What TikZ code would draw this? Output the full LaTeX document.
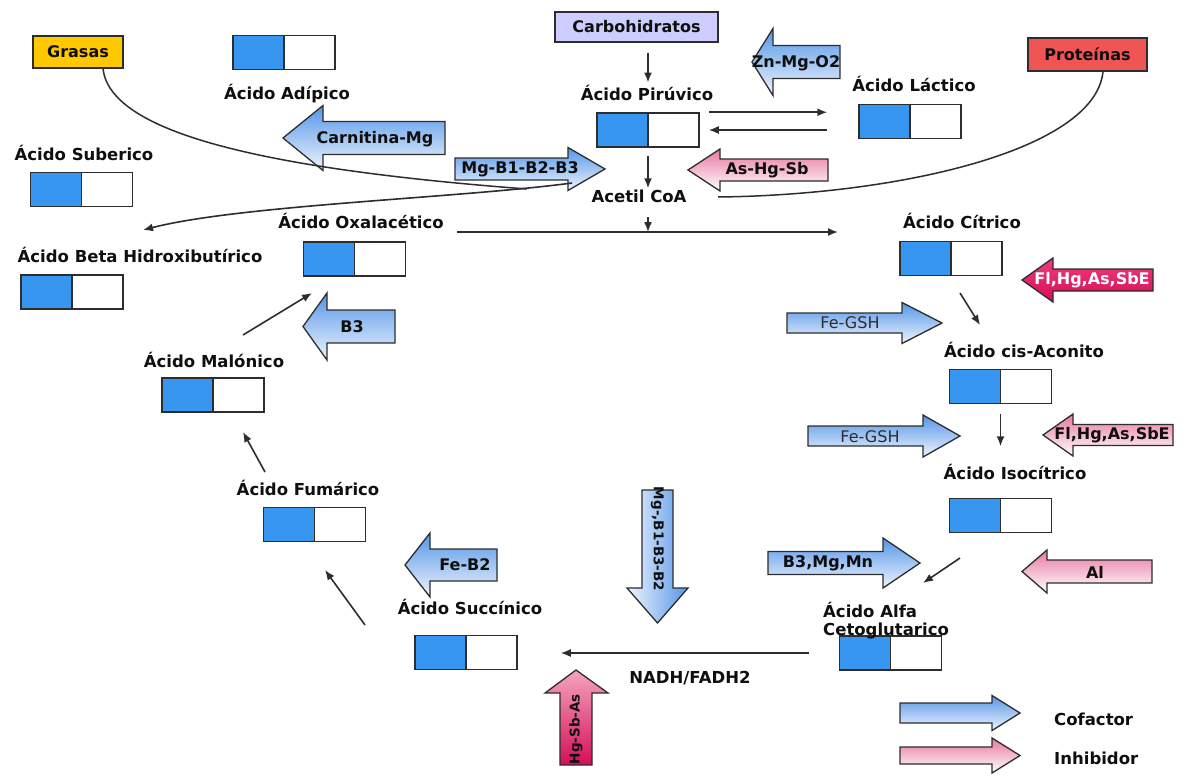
\documentclass[tikz,border=0pt]{standalone}
\usepackage{fontspec}
\setmainfont{DejaVu Sans}
\usetikzlibrary{arrows.meta}
\definecolor{boxblue}{RGB}{55,150,240}
\definecolor{boxline}{RGB}{45,45,45}
\definecolor{cofblue}{RGB}{85,150,230}
\definecolor{coflight}{RGB}{238,244,255}
\definecolor{inhpink}{RGB}{232,120,160}
\definecolor{inhdeep}{RGB}{212,15,85}
\definecolor{inhdeeptop}{RGB}{238,60,125}
\definecolor{inhvtop}{RGB}{245,165,192}
\definecolor{grasacol}{RGB}{255,200,0}
\definecolor{carbocol}{RGB}{205,205,255}
\definecolor{protcol}{RGB}{240,85,85}
\definecolor{txt}{RGB}{15,15,15}
\newcommand\hblk[7]{\shadedraw[#1] (#2,#5-#6) -- (#3,#5-#6) -- (#3,#5-#7) -- (#4,#5) -- (#3,#5+#7) -- (#3,#5+#6) -- (#2,#5+#6) -- cycle;}
\begin{document}
\begin{tikzpicture}[x=1pt,y=-1pt,
  every node/.style={text=txt},
  lbl/.style={font=\fontsize{16.5}{18}\selectfont\bfseries, inner sep=1pt},
  albl/.style={font=\fontsize{16}{18}\selectfont\bfseries, inner sep=0pt},
  rlbl/.style={font=\fontsize{16}{18}\selectfont, inner sep=0pt, text=boxline},
  vlbl/.style={font=\fontsize{13.5}{15}\selectfont\bfseries, inner sep=0pt},
  halfbox/.style={draw=boxline, line width=1.5pt, minimum width=102pt, minimum height=34pt, inner sep=0pt,
    path picture={\fill[boxblue] (path picture bounding box.north west) rectangle (path picture bounding box.south);
      \draw[boxline, line width=1.5pt] (path picture bounding box.north) -- (path picture bounding box.south);}},
  srcbox/.style={draw=boxline, line width=1.5pt, inner sep=0pt, font=\fontsize{16}{18}\selectfont\bfseries},
  conn/.style={draw=boxline, line width=1.6pt, -{Latex[length=10pt,width=8pt]}},
  plain/.style={draw=boxline, line width=1.5pt},
  cof/.style={top color=cofblue, bottom color=coflight, draw=boxline, line width=1.3pt},
  inhl/.style={top color=inhpink, bottom color=white, draw=boxline, line width=1.3pt},
  inhs/.style={top color=inhdeeptop, bottom color=inhdeep, draw=boxline, line width=1.3pt},
]
\useasboundingbox (0,0) rectangle (1201,776);
\fill[white] (0,0) rectangle (1201,776);

% source boxes
\node[srcbox, fill=grasacol, minimum width=90pt, minimum height=32pt] (grasas) at (78,52) {Grasas};
\node[srcbox, fill=carbocol, minimum width=163pt, minimum height=30pt] (carbo) at (636.5,27) {Carbohidratos};
\node[srcbox, fill=protcol, minimum width=119pt, minimum height=33pt] (prot) at (1087.5,54.5) {Proteínas};

% half boxes
\node[halfbox] (adipbox) at (284,52.5) {};
\node[halfbox] (suberbox) at (81.5,189.5) {};
\node[halfbox] (betabox) at (72,292) {};
\node[halfbox] (oxbox) at (354.5,259) {};
\node[halfbox] (pirbox) at (648,130) {};
\node[halfbox] (lacbox) at (910,121.5) {};
\node[halfbox] (citbox) at (951,258.5) {};
\node[halfbox] (cisbox) at (1000.5,386.5) {};
\node[halfbox] (isobox) at (1000.5,515.5) {};
\node[halfbox] (alfabox) at (890.5,653) {};
\node[halfbox] (succbox) at (466,652.5) {};
\node[halfbox] (fumbox) at (314.5,524.5) {};
\node[halfbox] (malbox) at (213,395) {};

% labels
\node[lbl, anchor=base] (adip) at (287,99) {Ácido Adípico};
\node[lbl, anchor=base] (suber) at (84,160) {Ácido Suberico};
\node[lbl, anchor=base] (beta) at (140,262) {Ácido Beta Hidroxibutírico};
\node[lbl, anchor=base] (ox) at (361,228) {Ácido Oxalacético};
\node[lbl, anchor=base] (pir) at (647,100) {Ácido Pirúvico};
\node[lbl, anchor=base] (acetil) at (639,202) {Acetil CoA};
\node[lbl, anchor=base] (lac) at (914,92) {Ácido Láctico};
\node[lbl, anchor=base] (cit) at (962,228) {Ácido Cítrico};
\node[lbl, anchor=base] (cis) at (1024,357) {Ácido cis-Aconito};
\node[lbl, anchor=base] (iso) at (1015,479) {Ácido Isocítrico};
\node[lbl, anchor=base] (mal) at (214,367) {Ácido Malónico};
\node[lbl, anchor=base] (fum) at (308,495) {Ácido Fumárico};
\node[lbl, anchor=base] (succ) at (470,614) {Ácido Succínico};
\node[lbl, anchor=base west] (alfa1) at (822,617) {Ácido Alfa};
\node[lbl, anchor=base west] (alfa2) at (822,635) {Cetoglutarico};
\node[lbl, anchor=base] (nadh) at (690,683) {NADH/FADH2};
\node[lbl, anchor=base west] (cofl) at (1053,725) {Cofactor};
\node[lbl, anchor=base west] (inhl) at (1053,764) {Inhibidor};

% block arrows: cofactors
\hblk{cof}{445}{323}{283}{138}{16.5}{32.5}
\hblk{cof}{455}{568}{605}{169}{11}{21.5}
\hblk{cof}{840}{773}{752}{62}{16.5}{33.5}
\hblk{cof}{787}{902}{942}{323}{10}{20.5}
\hblk{cof}{808}{923}{960}{436}{10}{21}
\hblk{cof}{768}{883}{920}{563}{11.5}{25}
\hblk{cof}{395}{327}{303}{326.5}{16.5}{33.5}
\hblk{cof}{497}{430}{405}{565}{16}{32}
\hblk{cof}{900}{992}{1020}{713}{10}{17.5}
\shadedraw[left color=coflight, right color=cofblue, draw=boxline, line width=1.3pt]
  (642,490) -- (673,490) -- (673,588) -- (688,588) -- (657.5,623) -- (627,588) -- (642,588) -- cycle;
% block arrows: inhibitors
\hblk{inhl}{828}{720}{688}{170}{11}{21}
\hblk{inhs}{1153}{1053}{1022}{280}{11}{22}
\hblk{inhl}{1173}{1073}{1043}{435}{10.5}{21}
\hblk{inhl}{1152}{1047}{1022}{571.5}{11.5}{21.5}
\hblk{inhl}{900}{992}{1020}{755.5}{8.5}{17.5}
\shadedraw[top color=inhvtop, bottom color=inhdeep, draw=boxline, line width=1.3pt]
  (560,765) -- (592,765) -- (592,693) -- (608,693) -- (576,670) -- (545,693) -- (560,693) -- cycle;

% arrow texts
\node[albl] (tcarn) at (375,139) {Carnitina-Mg};
\node[albl] (tmgb) at (520,169) {Mg-B1-B2-B3};
\node[albl] (tzn) at (796,63) {Zn-Mg-O2};
\node[rlbl] (tfe1) at (850,323) {Fe-GSH};
\node[rlbl] (tfe2) at (870,437) {Fe-GSH};
\node[albl] (tb3mg) at (828,563) {B3,Mg,Mn};
\node[albl] (tb3) at (352,327) {B3};
\node[albl] (tfeb2) at (465,565) {Fe-B2};
\node[albl] (tas) at (767,170) {As-Hg-Sb};
\node[albl, text=white] (tfl1) at (1092,280) {Fl,Hg,As,SbE};
\node[albl] (tfl2) at (1112,435) {Fl,Hg,As,SbE};
\node[albl] (tal) at (1095,572) {Al};
\node[vlbl, rotate=-90] (tmgv) at (657.5,539) {Mg-,B1-B3-B2};
\node[vlbl, rotate=90] (thg) at (576,729) {Hg-Sb-As};

% connectors
\draw[conn, shorten <=10pt, shorten >=1pt] (pirbox |- carbo.south) -- (pirbox |- pir.north);
\draw[conn, shorten <=8pt] (pirbox.south) -- (pirbox.south |- acetil.north);
\draw[conn, shorten <=9pt, shorten >=31pt] (pirbox.north east) -- (pirbox.north east -| lacbox.west);
\draw[conn, shorten <=31pt, shorten >=9pt] (pirbox.east -| lacbox.west) -- (pirbox.east);
\coordinate (tcaL) at (457,232);
\coordinate (tcaR) at (838,232);
\draw[conn] (tcaL) -- (tcaR);
\draw[conn, shorten <=14pt] (pirbox.south |- acetil.south) -- (pirbox.south |- tcaL);
\coordinate (gend) at (527,189);
\draw[plain] ([xshift=25pt]grasas.south) .. controls (110,130) and (250,168) .. (gend);
\coordinate (mgstart) at (572,183);
\coordinate (betaend) at (143,230);
\draw[conn] (mgstart) .. controls (460,198) and (240,205) .. (betaend);
\coordinate (pend) at (718,197);
\draw[plain] ([xshift=15.5pt]prot.south) .. controls (1095,150) and (900,195) .. (pend);
\coordinate (c9a) at (960,293);
\coordinate (c9b) at (980,325);
\draw[conn] (c9a) -- (c9b);
\draw[conn, shorten <=10pt] (cisbox.south) -- ++(0,42);
\coordinate (c11a) at (960,558);
\coordinate (c11b) at (923,583);
\draw[conn] (c11a) -- (c11b);
\draw[conn, shorten <=30pt, shorten >=43pt] (alfabox.west) -- (alfabox.west -| succbox.east);
\coordinate (c13a) at (365,625);
\coordinate (c13b) at (325,570);
\draw[conn] (c13a) -- (c13b);
\coordinate (c14a) at (265,472);
\coordinate (c14b) at (243,432);
\draw[conn] (c14a) -- (c14b);
\coordinate (c15a) at (243,335);
\coordinate (c15b) at (312,293);
\draw[conn] (c15a) -- (c15b);
\end{tikzpicture}
\end{document}
